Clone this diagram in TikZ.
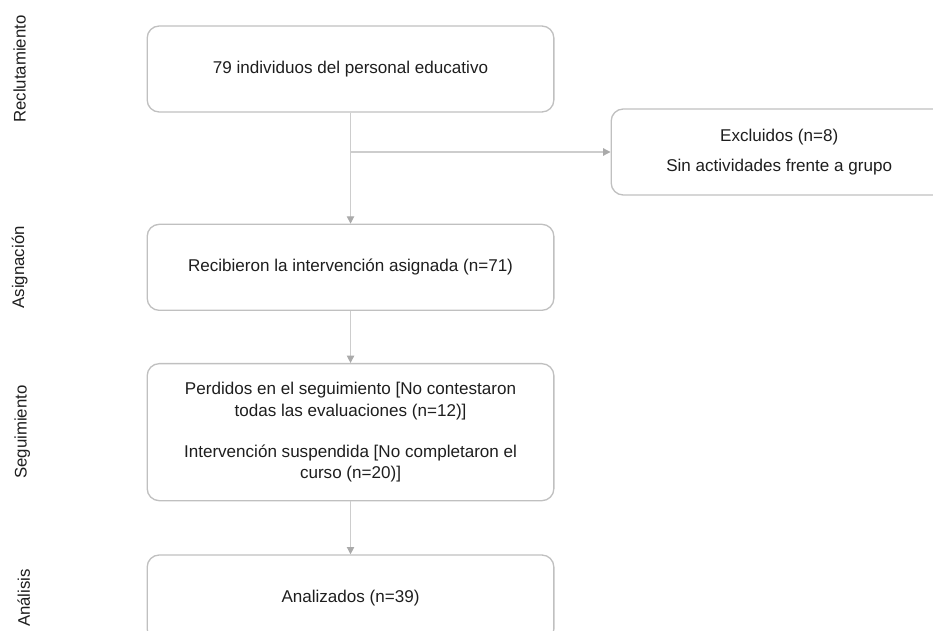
\documentclass[tikz,border=0pt]{standalone}
\usepackage{fontspec}
\setmainfont{Liberation Sans}
\usepackage{tikz}
\usetikzlibrary{arrows.meta, positioning, calc}

\definecolor{boxgray}{RGB}{192,192,192}
\definecolor{linkgray}{RGB}{205,205,205}
\definecolor{tipgray}{RGB}{170,170,170}
\definecolor{inkgray}{RGB}{30,30,30}

\begin{document}
\begin{tikzpicture}[
  stepbox/.style={rectangle, rounded corners=9pt, draw=boxgray, line width=1pt, minimum width=305pt, minimum height=64.5pt, align=center, text=inkgray, font=\fontsize{12.8}{16.1}\selectfont},
  phase/.style={rotate=90, text=inkgray, font=\fontsize{12.6}{14}\selectfont},
  flow/.style={draw=linkgray, line width=0.8pt, -{Triangle[length=5.5pt, width=5.5pt, color=tipgray]}}
]
  \clip (0,0) rectangle (699.75pt,-473.25pt);

  \node[stepbox] (recl) at (262.9pt,-51.75pt) {79 individuos del personal educativo};
  \node[stepbox, minimum width=252pt, right=42pt of recl, yshift=-62.25pt] (excl) {Excluidos (n=8)\\[6.4pt]Sin actividades frente a grupo};
  \node[stepbox, below=83.25pt of recl] (asig) {Recibieron la intervención asignada (n=71)};
  \node[stepbox, minimum height=102.75pt, below=39pt of asig] (segu) {Perdidos en el seguimiento [No contestaron\\todas las evaluaciones (n=12)]\\[14.6pt]Intervención suspendida [No completaron el\\curso (n=20)]};
  \node[stepbox, below=39.75pt of segu] (anal) {Analizados (n=39)};

  % etapas
  \coordinate (labx) at (14.8pt,0);
  \node[phase] (lrecl) at (labx |- recl) {Reclutamiento};
  \node[phase] (lasig) at (labx |- asig) {Asignación};
  \node[phase, yshift=-2pt] (lsegu) at (labx |- segu) {Seguimiento};
  \node[phase, yshift=-3pt] (lanal) at (labx |- anal) {Análisis};

  \draw[flow] (recl) -- (asig);
  \draw[flow] (recl.south |- excl.west) -- (excl);
  \draw[flow] (asig) -- (segu);
  \draw[flow] (segu) -- (anal);
\end{tikzpicture}
\end{document}
